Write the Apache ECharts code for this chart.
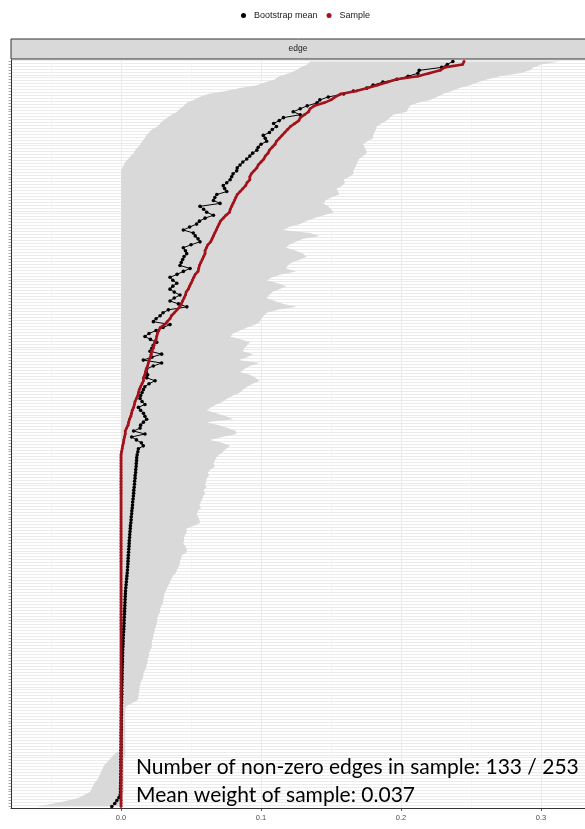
<!DOCTYPE html>
<html>
<head>
<meta charset="utf-8">
<script src="https://cdn.jsdelivr.net/npm/echarts@6/dist/echarts.min.js"></script>
<style>
  html, body { margin: 0; padding: 0; background: #ffffff; }
  #chart { width: 585px; height: 829px; }
</style>
</head>
<body>
<div id="chart"></div>
<script>
// Edge weights, sorted from strongest to weakest sample edge (253 edges).
const sampleWeights = [
  0.245, 0.244, 0.231, 0.228, 0.220, 0.212, 0.197, 0.190, 0.183, 0.176,
  0.168, 0.157, 0.153, 0.150, 0.145, 0.138, 0.135, 0.134, 0.131, 0.128,
  0.127, 0.124, 0.121, 0.119, 0.117, 0.115, 0.113, 0.111, 0.110, 0.108,
  0.106, 0.105, 0.103, 0.102, 0.100, 0.098, 0.097, 0.095, 0.093, 0.092,
  0.092, 0.090, 0.089, 0.087, 0.085, 0.083, 0.082, 0.081, 0.080, 0.079,
  0.078, 0.0775, 0.075, 0.073, 0.071, 0.070, 0.069, 0.068, 0.067, 0.066,
  0.065, 0.064, 0.062, 0.061, 0.060, 0.060, 0.059, 0.058, 0.057, 0.056,
  0.0555, 0.055, 0.053, 0.052, 0.051, 0.050, 0.049, 0.048, 0.0465, 0.046,
  0.045, 0.044, 0.043, 0.042, 0.040, 0.038, 0.036, 0.035, 0.033, 0.031,
  0.028, 0.027, 0.026, 0.0255, 0.025, 0.024, 0.0235, 0.023, 0.022, 0.0215,
  0.021, 0.020, 0.0195, 0.019, 0.018, 0.0175, 0.017, 0.016, 0.016, 0.015,
  0.014, 0.013, 0.0125, 0.012, 0.011, 0.010, 0.0095, 0.009, 0.008, 0.0075,
  0.007, 0.006, 0.0055, 0.005, 0.004, 0.003, 0.003, 0.0025, 0.002, 0.0017,
  0.0012, 0.0008, 0.0004, 0, 0, 0, 0, 0, 0, 0,
  0, 0, 0, 0, 0, 0, 0, 0, 0, 0,
  0, 0, 0, 0, 0, 0, 0, 0, 0, 0,
  0, 0, 0, 0, 0, 0, 0, 0, 0, 0,
  0, 0, 0, 0, 0, 0, 0, 0, 0, 0,
  0, 0, 0, 0, 0, 0, 0, 0, 0, 0,
  0, 0, 0, 0, 0, 0, 0, 0, 0, 0,
  0, 0, 0, 0, 0, 0, 0, 0, 0, 0,
  0, 0, 0, 0, 0, 0, 0, 0, 0, 0,
  0, 0, 0, 0, 0, 0, 0, 0, 0, 0,
  0, 0, 0, 0, 0, 0, 0, 0, 0, 0,
  0, 0, 0, 0, 0, 0, 0, 0, 0, 0,
  0, 0, 0
];

const bootMeans = [
  0.237, 0.233, 0.229, 0.213, 0.212, 0.205, 0.197, 0.187, 0.180, 0.1755,
  0.166, 0.159, 0.148, 0.142, 0.140, 0.133, 0.128, 0.123, 0.128, 0.116,
  0.113, 0.109, 0.111, 0.108, 0.106, 0.1016, 0.103, 0.104, 0.100, 0.098,
  0.097, 0.094, 0.092, 0.0898, 0.087, 0.085, 0.083, 0.0826, 0.080, 0.079,
  0.0779, 0.0755, 0.073, 0.074, 0.0755, 0.0684, 0.067, 0.066, 0.0707, 0.0564,
  0.059, 0.0612, 0.066, 0.060, 0.056, 0.054, 0.049, 0.0445, 0.0516, 0.053,
  0.055, 0.0564, 0.050, 0.0445, 0.046, 0.0469, 0.045, 0.044, 0.043, 0.0421,
  0.0493, 0.0445, 0.040, 0.035, 0.037, 0.0398, 0.037, 0.035, 0.038, 0.0421,
  0.038, 0.035, 0.041, 0.047, 0.0338, 0.030, 0.0279, 0.025, 0.0231, 0.035,
  0.030, 0.025, 0.020, 0.0171, 0.021, 0.0255, 0.023, 0.022, 0.0207, 0.029,
  0.022, 0.0159, 0.029, 0.023, 0.0183, 0.018, 0.019, 0.0183, 0.0243, 0.020,
  0.017, 0.0159, 0.015, 0.014, 0.0136, 0.015, 0.0171, 0.0124, 0.014, 0.016,
  0.017, 0.0183, 0.016, 0.014, 0.0136, 0.009, 0.0171, 0.0076, 0.011, 0.0145,
  0.0159, 0.0124, 0.012, 0.0115, 0.0112, 0.0111, 0.0109, 0.0108, 0.0105, 0.0104,
  0.0101, 0.0100, 0.0097, 0.0096, 0.0094, 0.0091, 0.0090, 0.0088, 0.0086, 0.0083,
  0.0082, 0.0080, 0.0077, 0.0076, 0.0073, 0.0072, 0.0070, 0.0067, 0.0066, 0.0064,
  0.0062, 0.0061, 0.0059, 0.0058, 0.0057, 0.0055, 0.0054, 0.0052, 0.0051, 0.0050,
  0.0049, 0.0047, 0.0046, 0.0044, 0.0042, 0.0040, 0.0038, 0.0036, 0.0034, 0.0032,
  0.0031, 0.0030, 0.0029, 0.0028, 0.0027, 0.0026, 0.0025, 0.0024, 0.0023, 0.0022,
  0.0021, 0.0020, 0.0019, 0.0018, 0.0017, 0.0016, 0.0015, 0.0014, 0.0013, 0.0012,
  0.0011, 0.0011, 0.0010, 0.0010, 0.0009, 0.0009, 0.0008, 0.0008, 0.0007, 0.0007,
  0.0006, 0.0006, 0.0005, 0.0005, 0.0005, 0.0004, 0.0004, 0.0004, 0.0003, 0.0003,
  0.0003, 0.0003, 0.0002, 0.0002, 0.0002, 0.0002, 0.0002, 0.0001, 0.0001, 0.0001,
  0.0001, 0.0001, 0.0001, 0.0000, 0.0000, 0.0000, -0.0001, -0.0001, -0.0001, -0.0001,
  -0.0001, -0.0002, -0.0002, -0.0002, -0.0003, -0.0003, -0.0004, -0.0004, -0.0006, -0.0015,
  -0.0030, -0.0045, -0.0066
];

const ciLower = [
  0.135, 0.133, 0.128, 0.125, 0.120, 0.113, 0.110, 0.103, 0.097, 0.085,
  0.075, 0.062, 0.056, 0.052, 0.047, 0.045, 0.042, 0.040, 0.036, 0.033,
  0.030, 0.028, 0.026, 0.022, 0.020, 0.018, 0.017, 0.015, 0.014, 0.012,
  0.010, 0.009, 0.007, 0.005, 0.003, 0.002, 0.001, 0, 0, 0,
  0, 0, 0, 0, 0, 0, 0, 0, 0, 0,
  0, 0, 0, 0, 0, 0, 0, 0, 0, 0,
  0, 0, 0, 0, 0, 0, 0, 0, 0, 0,
  0, 0, 0, 0, 0, 0, 0, 0, 0, 0,
  0, 0, 0, 0, 0, 0, 0, 0, 0, 0,
  0, 0, 0, 0, 0, 0, 0, 0, 0, 0,
  0, 0, 0, 0, 0, 0, 0, 0, 0, 0,
  0, 0, 0, 0, 0, 0, 0, 0, 0, 0,
  0, 0, 0, 0, 0, 0, 0, 0, 0, 0,
  0, 0, 0, 0, 0, 0, 0, 0, 0, 0,
  0, 0, 0, 0, 0, 0, 0, 0, 0, 0,
  0, 0, 0, 0, 0, 0, 0, 0, 0, 0,
  0, 0, 0, 0, 0, 0, 0, 0, 0, 0,
  0, 0, 0, 0, 0, 0, 0, 0, 0, 0,
  0, 0, 0, 0, 0, 0, 0, 0, 0, 0,
  0, 0, 0, 0, 0, 0, 0, 0, 0, 0,
  0, 0, 0, 0, 0, 0, 0, 0, 0, 0,
  0, 0, 0, 0, 0, 0, 0, 0, 0, 0,
  0, 0, 0, 0, 0, 0, 0, 0, 0, 0,
  0, 0, 0, 0, -0.004, -0.006, -0.008, -0.010, -0.012, -0.013,
  -0.014, -0.015, -0.016, -0.017, -0.019, -0.020, -0.021, -0.022, -0.026, -0.030,
  -0.038, -0.048, -0.060
];

const ciUpper = [
  0.3136, 0.300, 0.2945, 0.292, 0.285, 0.2707, 0.262, 0.255, 0.249, 0.242,
  0.236, 0.230, 0.2255, 0.2207, 0.212, 0.2064, 0.205, 0.204, 0.1945, 0.192,
  0.1898, 0.186, 0.1826, 0.182, 0.181, 0.180, 0.180, 0.176, 0.173, 0.174,
  0.175, 0.1755, 0.173, 0.170, 0.169, 0.168, 0.167, 0.166, 0.166, 0.163,
  0.159, 0.160, 0.158, 0.154, 0.155, 0.156, 0.150, 0.146, 0.1445, 0.148,
  0.150, 0.152, 0.145, 0.138, 0.132, 0.128, 0.120, 0.116, 0.135, 0.142,
  0.130, 0.125, 0.120, 0.118, 0.125, 0.130, 0.1326, 0.128, 0.122, 0.119,
  0.118, 0.125, 0.115, 0.108, 0.104, 0.112, 0.118, 0.113, 0.108, 0.106,
  0.104, 0.110, 0.116, 0.1255, 0.112, 0.104, 0.102, 0.100, 0.0993, 0.096,
  0.090, 0.085, 0.080, 0.0779, 0.086, 0.092, 0.090, 0.088, 0.087, 0.0945,
  0.090, 0.084, 0.099, 0.092, 0.088, 0.085, 0.092, 0.096, 0.099, 0.094,
  0.090, 0.087, 0.085, 0.080, 0.076, 0.073, 0.068, 0.064, 0.0612, 0.068,
  0.075, 0.0802, 0.0612, 0.070, 0.076, 0.082, 0.0826, 0.072, 0.0636, 0.072,
  0.0779, 0.075, 0.073, 0.070, 0.068, 0.067, 0.066, 0.067, 0.064, 0.062,
  0.063, 0.0612, 0.061, 0.060, 0.061, 0.059, 0.060, 0.0588, 0.058, 0.057,
  0.056, 0.057, 0.055, 0.0541, 0.055, 0.056, 0.0564, 0.052, 0.0469, 0.047,
  0.046, 0.045, 0.045, 0.0445, 0.046, 0.047, 0.0469, 0.0433, 0.043, 0.042,
  0.042, 0.041, 0.040, 0.039, 0.037, 0.036, 0.035, 0.034, 0.033, 0.032,
  0.031, 0.0305, 0.0302, 0.030, 0.029, 0.028, 0.028, 0.027, 0.026, 0.026,
  0.0255, 0.025, 0.024, 0.024, 0.023, 0.023, 0.022, 0.022, 0.022, 0.021,
  0.020, 0.020, 0.019, 0.019, 0.0183, 0.018, 0.017, 0.016, 0.016, 0.015,
  0.014, 0.0136, 0.013, 0.013, 0.0125, 0.0124, 0.012, 0.008, 0.004, 0.003,
  0.003, 0.003, 0.003, 0.003, 0.003, 0.003, 0.003, 0.003, 0.003, 0.003,
  0.003, 0.003, 0.003, 0.003, 0.003, 0.003, 0.002, 0.002, 0.002, 0.002,
  0.002, 0.002, 0.002, 0.002, 0.002, 0.002, 0.002, 0.002, 0.001, 0.001,
  0.001, 0.001, 0.001
];

// x-axis: labelled ticks and the minor gridline positions
const xTicks = [0, 0.1, 0.2, 0.3];
const xMinorGrid = [-0.05, 0.05, 0.15, 0.25];
const X_MIN = -0.0786;
const X_MAX = 0.3314;

const edgeIds = sampleWeights.map((_, i) => 'edge ' + (i + 1));
const nonZeroCount = sampleWeights.filter(v => v !== 0).length;
const meanWeight = sampleWeights.reduce((a, b) => a + b, 0) / sampleWeights.length;

const chart = echarts.init(document.getElementById('chart'), null, { renderer: 'canvas' });

const GRID = { left: 11, right: 0, top: 60, bottom: 21 };
const SANS = '"Liberation Sans", Arial, sans-serif';
const NOTE_FONT = '21px Lato, "Open Sans", sans-serif';

const option = {
  animation: false,
  backgroundColor: '#ffffff',
  textStyle: { fontFamily: SANS },
  legend: {
    top: 6,
    left: 236,
    icon: 'circle',
    itemWidth: 5,
    itemHeight: 5,
    itemGap: 9,
    textStyle: { fontSize: 9, color: '#1a1a1a', fontFamily: SANS, padding: [0, 0, 0, 3] },
    data: ['Bootstrap mean', 'Sample']
  },
  grid: GRID,
  xAxis: {
    type: 'value',
    min: X_MIN,
    max: X_MAX,
    splitLine: { show: false },
    axisLine: { show: true, onZero: false, lineStyle: { color: '#333333', width: 1 } },
    axisTick: { show: true, length: 3, customValues: xTicks, lineStyle: { color: '#333333', width: 0.8 } },
    axisLabel: {
      customValues: xTicks,
      formatter: v => v.toFixed(1),
      fontSize: 7.5,
      color: '#4d4d4d',
      margin: 6
    }
  },
  yAxis: {
    type: 'category',
    inverse: true,
    data: edgeIds,
    axisLine: { show: true, onZero: false, lineStyle: { color: '#333333', width: 1 } },
    axisTick: { show: true, length: 2.5, alignWithLabel: true, interval: 0, lineStyle: { color: '#555555', width: 0.5 } },
    axisLabel: { show: false },
    splitLine: { show: true, interval: 0, lineStyle: { color: '#ebebeb', width: 1 } }
  },
  graphic: [
    {
      // facet strip above the panel
      type: 'rect',
      z: 50,
      shape: { x: 11, y: 39, width: 590, height: 20 },
      style: { fill: '#d9d9d9', stroke: '#333333', lineWidth: 1 }
    },
    {
      type: 'text',
      z: 51,
      x: 298,
      y: 49,
      style: { text: 'edge', font: '8.5px ' + SANS, fill: '#1a1a1a', align: 'center', verticalAlign: 'middle' }
    },
    {
      type: 'text',
      z: 60,
      left: 136,
      top: 757,
      style: {
        text: 'Number of non-zero edges in sample: ' + nonZeroCount + ' / ' + sampleWeights.length,
        font: NOTE_FONT,
        fill: '#000000'
      }
    },
    {
      type: 'text',
      z: 60,
      left: 136,
      top: 785,
      style: {
        text: 'Mean weight of sample: ' + meanWeight.toFixed(3),
        font: NOTE_FONT,
        fill: '#000000'
      }
    }
  ],
  series: [
    {
      // vertical gridlines underneath the bootstrap confidence band
      name: 'band',
      type: 'custom',
      z: 2,
      silent: true,
      clip: false,
      data: [[0, 0]],
      renderItem: function (params, api) {
        const cs = params.coordSys;
        const top = cs.y;
        const bottom = cs.y + cs.height;
        const children = [];
        xMinorGrid.forEach(v => {
          const px = Math.round(api.coord([v, 0])[0]) + 0.5;
          children.push({
            type: 'line',
            shape: { x1: px, y1: top, x2: px, y2: bottom },
            style: { stroke: '#f2f2f2', lineWidth: 0.6 }
          });
        });
        xTicks.forEach(v => {
          const px = Math.round(api.coord([v, 0])[0]) + 0.5;
          children.push({
            type: 'line',
            shape: { x1: px, y1: top, x2: px, y2: bottom },
            style: { stroke: '#ebebeb', lineWidth: 1 }
          });
        });
        const pts = [];
        for (let i = 0; i < ciUpper.length; i++) pts.push(api.coord([ciUpper[i], i]));
        for (let i = ciLower.length - 1; i >= 0; i--) pts.push(api.coord([ciLower[i], i]));
        children.push({
          type: 'polygon',
          shape: { points: pts },
          style: { fill: '#d9d9d9', stroke: null }
        });
        return { type: 'group', children: children };
      }
    },
    {
      name: 'Bootstrap mean',
      type: 'line',
      z: 3,
      data: bootMeans.map((v, i) => [v, edgeIds[i]]),
      symbol: 'circle',
      symbolSize: 3.6,
      showAllSymbol: true,
      lineStyle: { color: '#000000', width: 1 },
      itemStyle: { color: '#000000' }
    },
    {
      name: 'Sample',
      type: 'line',
      z: 4,
      data: sampleWeights.map((v, i) => [v, edgeIds[i]]),
      symbol: 'circle',
      symbolSize: 2.8,
      showAllSymbol: true,
      lineStyle: { color: '#a3121b', width: 2.6 },
      itemStyle: { color: '#a3121b' }
    }
  ]
};

chart.setOption(option);
</script>
</body>
</html>
